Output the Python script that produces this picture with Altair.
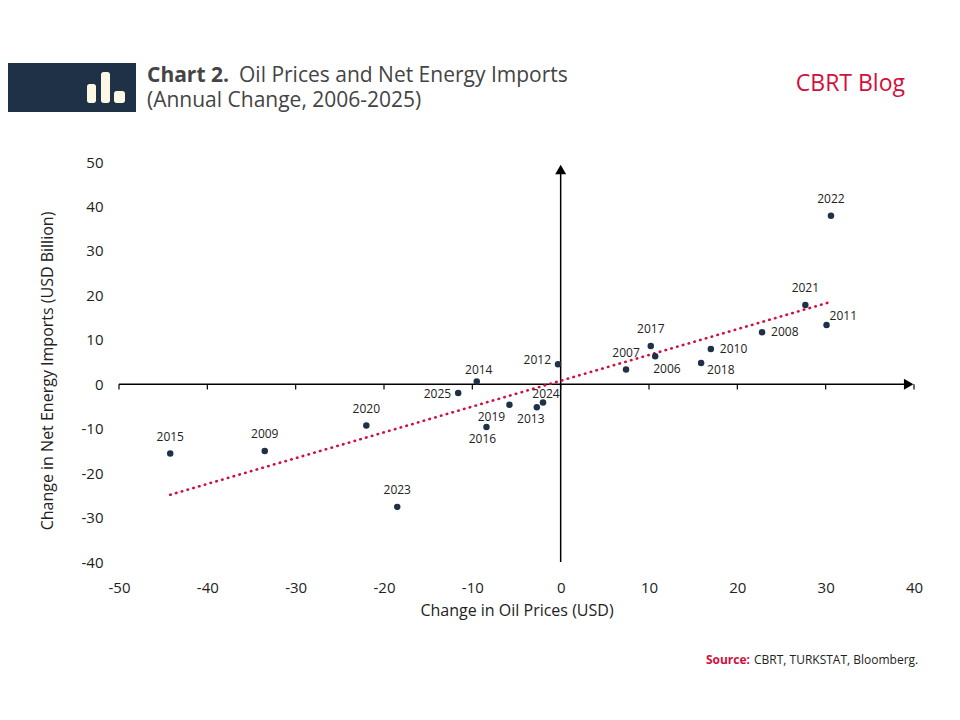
import altair as alt
import pandas as pd

# ---- data ----
years = ["2015", "2009", "2020", "2023", "2014", "2025", "2019", "2016", "2013", "2024",
         "2012", "2007", "2017", "2006", "2010", "2018", "2008", "2021", "2011", "2022"]
oil_change = [-44.2, -33.5, -22.0, -18.5, -9.5, -11.6, -5.8, -8.4, -2.7, -2.0,
              -0.3, 7.4, 10.2, 10.7, 17.0, 15.9, 22.8, 27.7, 30.1, 30.6]
energy_change = [-15.6, -15.0, -9.3, -27.6, 0.6, -2.0, -4.6, -9.6, -5.2, -4.1,
                 4.5, 3.3, 8.6, 6.3, 7.9, 4.8, 11.7, 17.8, 13.3, 37.9]
label_place = ["above", "above", "above", "above", "above_near", "left", "below_left", "below",
               "below_left2", "above_right", "left_up", "above", "above", "below_right",
               "right", "right_down", "right", "above", "right_up", "above"]

x_ticks = [-50, -40, -30, -20, -10, 0, 10, 20, 30, 40]
y_ticks = [-40, -30, -20, -10, 0, 10, 20, 30, 40, 50]
x_domain = [-50, 40]
y_domain = [-40, 50]
x_axis_line = [-50, 39.2]
y_axis_line = [-40, 47.5]
x_arrow = [39.4]
y_arrow = [48.3]

NAVY = "#1e3147"
RED = "#d20f3c"
TXT = "#222222"
FONT = "Open Sans"

df = pd.DataFrame({"x": oil_change, "y": energy_change, "year": years, "place": label_place})

xs = alt.Scale(domain=x_domain, nice=False, zero=False)
ys = alt.Scale(domain=y_domain, nice=False, zero=False)

LABEL_EXPR = "'' + datum.value"


def X(field):
    return alt.X(field, type="quantitative", scale=xs, title=None,
                 axis=alt.Axis(values=x_ticks, domain=False, ticks=False, tickSize=0, grid=False,
                               labelFlush=False, labelExpr=LABEL_EXPR,
                               labelFontSize=15, labelPadding=18, labelColor=TXT, labelFont=FONT))


def Y(field):
    return alt.Y(field, type="quantitative", scale=ys, title=None,
                 axis=alt.Axis(values=y_ticks, domain=False, ticks=False, tickSize=0, grid=False,
                               labelFlush=False, labelExpr=LABEL_EXPR,
                               labelFontSize=15, labelPadding=16, labelColor=TXT, labelFont=FONT))


one = pd.DataFrame({"a": [0]})

# cross axes
xline = alt.Chart(pd.DataFrame({"x": [x_axis_line[0]], "x1": [x_axis_line[1]], "y": [0]})).mark_rule(
    color="black", strokeWidth=1.5).encode(x=X("x"), x2="x1", y=Y("y"))
yline = alt.Chart(pd.DataFrame({"y": [y_axis_line[0]], "y1": [y_axis_line[1]], "x": [0]})).mark_rule(
    color="black", strokeWidth=1.5).encode(x=X("x"), y=Y("y"), y2="y1")
xticks_df = pd.DataFrame({"x": x_ticks, "y": [0] * len(x_ticks), "y1": [-1.2] * len(x_ticks)})
xticks_rule = alt.Chart(xticks_df).mark_rule(color="black", strokeWidth=1.2).encode(
    x=X("x"), y=Y("y"), y2="y1")
xarrow = alt.Chart(pd.DataFrame({"x": x_arrow, "y": [0]})).mark_point(
    shape="triangle-right", filled=True, color="black", size=120, opacity=1).encode(x=X("x"), y=Y("y"))
yarrow = alt.Chart(pd.DataFrame({"x": [0], "y": y_arrow})).mark_point(
    shape="triangle-up", filled=True, color="black", size=120, opacity=1).encode(x=X("x"), y=Y("y"))

# trend line
trend = alt.Chart(df).transform_regression("x", "y").mark_line(
    color=RED, strokeWidth=2.6, strokeDash=[0.5, 5.5], strokeCap="round").encode(x=X("x"), y=Y("y"))

points = alt.Chart(df).mark_circle(size=42, color=NAVY, opacity=1).encode(x=X("x"), y=Y("y"))

styles = {
    "above": (0, -17, "center"),
    "above_near": (2, -12, "center"),
    "above_right": (3, -8, "center"),
    "right": (9, 0, "left"),
    "right_up": (3, -9, "left"),
    "right_down": (6, 7, "left"),
    "below_right": (-2, 13, "left"),
    "left": (-7, 1, "right"),
    "left_up": (-7, -4, "right"),
    "below": (-4, 12, "center"),
    "below_left": (-18, 12, "center"),
    "below_left2": (-6, 12, "center"),
}
label_layers = []
for name, (dx, dy, al) in styles.items():
    label_layers.append(
        alt.Chart(df).transform_filter(alt.datum.place == name).mark_text(
            dx=dx, dy=dy, align=al, baseline="middle", fontSize=12, font=FONT, color=TXT
        ).encode(x=X("x"), y=Y("y"), text="year:N")
    )

# header decorations
header_rect = alt.Chart(one).mark_rect(color=NAVY).encode(
    x=alt.value(-119), x2=alt.value(17), y=alt.value(-99), y2=alt.value(-50))
icon_bars = [
    (-32, -23, -78, -59),
    (-18, -9, -90, -59),
    (-5, 6, -71, -59),
]
icon_layers = [
    alt.Chart(one).mark_rect(color="#fdf8e6", cornerRadius=2.5).encode(
        x=alt.value(a), x2=alt.value(b), y=alt.value(c), y2=alt.value(d))
    for a, b, c, d in icon_bars
]


def txt(s, x, y, size, color=TXT, weight="normal", align="left", angle=0):
    return alt.Chart(one).mark_text(text=s, fontSize=size, font=FONT, color=color, fontWeight=weight,
                                    align=align, baseline="middle", angle=angle).encode(
        x=alt.value(x), y=alt.value(y))


title_b = txt("Chart 2.", 28, -86, 21, color="#444444", weight="bold")
title_1 = txt("Oil Prices and Net Energy Imports", 120, -86, 21, color="#444444")
title_2 = txt("(Annual Change, 2006-2025)", 28, -61, 21, color="#444444")
brand = txt("CBRT Blog", 786, -78, 23, color=RED, align="right")
xtitle = txt("Change in Oil Prices (USD)", 398, 449, 16, align="center")
ytitle = txt("Change in Net Energy Imports (USD Billion)", -71, 209, 16, align="center", angle=270)
src_b = txt("Source:", 631, 498, 12, color=RED, weight="bold", align="right")
src = txt("CBRT, TURKSTAT, Bloomberg.", 635, 498, 12)

chart = alt.layer(
    xline, yline, xticks_rule, xarrow, yarrow, trend, points, *label_layers,
    header_rect, *icon_layers, title_b, title_1, title_2, brand, xtitle, ytitle, src_b, src
).properties(
    width=795, height=400,
    autosize=alt.AutoSizeParams(type="none"),
    padding={"left": 111, "top": 154, "right": 38, "bottom": 150},
).configure_view(stroke=None)

chart.save("out.html", embed_options={"renderer": "svg", "actions": False})
